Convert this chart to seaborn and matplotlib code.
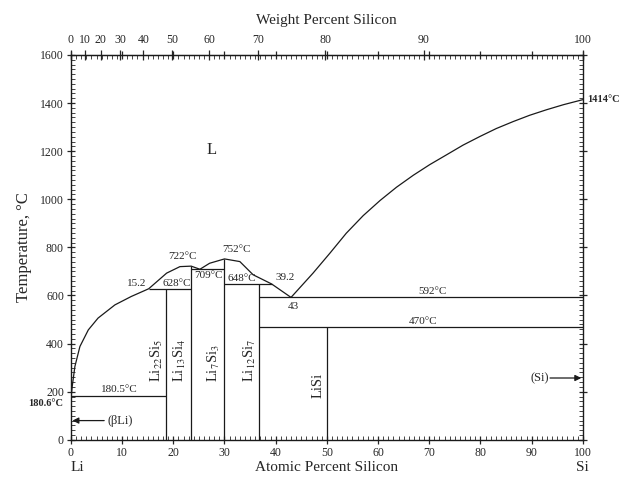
import numpy as np
import matplotlib
matplotlib.use("Agg")
from matplotlib import pyplot as plt
import seaborn as sns
import pandas as pd

# liquidus, Li side up to the eutectic at 43 at.%
liq_left_x = [0, 0.1, 0.25, 0.78, 1.76, 3.4, 5.3, 8.6, 11.8, 15.2, 18.7, 21.3, 23.5,
              25.2, 27.1, 30.0, 33.0, 35.6, 39.2, 43.0]
liq_left_t = [180.6, 190, 221, 305, 388, 457, 506, 561, 596, 628, 693, 720, 722,
              709, 734, 752, 741, 686, 648, 592]
# liquidus, Si side
liq_right_x = [43.0, 47.3, 50.6, 53.8, 57.1, 60.4, 63.6, 66.9, 70.1, 73.4, 76.6, 79.9,
               83.1, 86.4, 89.6, 92.9, 96.2, 100]
liq_right_t = [592, 693, 776, 859, 932, 995, 1050, 1100, 1144, 1185, 1225, 1261,
               1294, 1323, 1349, 1372, 1393, 1414]

# invariant lines (temperature, from x, to x)
h_temps = [180.5, 628, 709, 648, 592, 470]
h_from = [0, 15.2, 23.5, 30.0, 36.8, 36.8]
h_to = [18.5, 23.5, 30.0, 39.2, 100, 100]

# compound lines (composition, top temperature)
comp_names = ["Li$_{22}$Si$_5$", "Li$_{13}$Si$_4$", "Li$_7$Si$_3$", "Li$_{12}$Si$_7$", "LiSi"]
comp_x = [18.5, 23.5, 30.0, 36.8, 50.0]
comp_top = [628, 722, 752, 648, 470]

wt_labels = [0, 10, 20, 30, 40, 50, 60, 70, 80, 90, 100]

M_LI = 6.941
M_SI = 28.086


def at_to_wt(a):
    a = np.asarray(a, dtype=float)
    with np.errstate(divide='ignore', invalid='ignore'):
        return 100 * a * M_SI / (a * M_SI + (100 - a) * M_LI)


def wt_to_at(w):
    w = np.asarray(w, dtype=float)
    with np.errstate(divide='ignore', invalid='ignore'):
        return 100 * (w / M_SI) / (w / M_SI + (100 - w) / M_LI)


sns.set_style("ticks")
plt.rcParams['font.family'] = ['Liberation Serif', 'DejaVu Serif']
plt.rcParams['mathtext.fontset'] = 'stix'

fig = plt.figure(figsize=(6.22, 4.86), dpi=100)
ax = fig.add_axes([0.114, 0.095, 0.823, 0.792])

lc = '#1a1a1a'
lw = 0.9
df_l = pd.DataFrame({'x': liq_left_x, 't': liq_left_t})
df_r = pd.DataFrame({'x': liq_right_x, 't': liq_right_t})
sns.lineplot(data=df_l, x='x', y='t', sort=False, color=lc, lw=lw, ax=ax)
sns.lineplot(data=df_r, x='x', y='t', sort=False, color=lc, lw=lw, ax=ax)

ax.hlines(h_temps, h_from, h_to, color=lc, lw=lw)
ax.vlines(comp_x, 0, comp_top, color=lc, lw=lw)

ax.set_xlim(0, 100)
ax.set_ylim(0, 1600)
ax.set_xticks(np.arange(0, 101, 10))
ax.set_xticks(np.arange(0, 101, 1), minor=True)
ax.set_yticks(np.arange(0, 1601, 200))
ax.set_yticks(np.arange(0, 1601, 20), minor=True)
ax.tick_params(which='major', direction='inout', length=6, width=0.9,
               top=True, right=True, labeltop=False, labelright=False, pad=2)
ax.tick_params(axis='x', which='major', labelsize=8.5)
ax.tick_params(axis='y', which='major', labelsize=8.5)
ax.tick_params(which='minor', direction='in', length=3, width=0.6, top=True, right=True)
for s in ax.spines.values():
    s.set_linewidth(1.0)
    s.set_color(lc)

ax.set_xlabel("Atomic Percent Silicon", fontsize=11)
ax.xaxis.set_label_coords(0.5, -0.072)
ax.xaxis.label.set_va('center')
ax.set_ylabel("Temperature, °C", fontsize=12, labelpad=6)

top = ax.secondary_xaxis('top', functions=(at_to_wt, wt_to_at))
top.set_xticks(wt_labels)
top.set_xticks([], minor=True)
top.tick_params(which='major', direction='inout', length=7, width=0.9, labelsize=8.5, pad=3)
top.set_xlabel("Weight Percent Silicon", fontsize=11, labelpad=7)

# element labels under the axis
ax.text(0, -0.072, "Li", transform=ax.get_xaxis_transform(), fontsize=11, ha='left', va='center')
ax.text(100, -0.072, "Si", transform=ax.get_xaxis_transform(), fontsize=11, ha='center', va='center')

ax.text(-1.6, 152, "180.6°C", fontsize=7.5, fontweight='bold', ha='right', va='center')
ax.text(100.8, 1414, "1414°C", fontsize=7.5, fontweight='bold', ha='left', va='center')

ax.text(27.5, 1205, "L", fontsize=12, ha='center', va='center')

fs = 8
ax.text(9.5, 190, "180.5°C", fontsize=fs, ha='center', va='bottom')
ax.text(14.8, 632, "15.2", fontsize=fs, ha='right', va='bottom')
ax.text(20.6, 632, "628°C", fontsize=fs, ha='center', va='bottom')
ax.text(21.8, 745, "722°C", fontsize=fs, ha='center', va='bottom')
ax.text(26.8, 703, "709°C", fontsize=fs, ha='center', va='top')
ax.text(32.3, 772, "752°C", fontsize=fs, ha='center', va='bottom')
ax.text(33.4, 652, "648°C", fontsize=fs, ha='center', va='bottom')
ax.text(40.0, 655, "39.2", fontsize=fs, ha='left', va='bottom')
ax.text(43.4, 575, "43", fontsize=fs, ha='center', va='top')
ax.text(70.7, 597, "592°C", fontsize=fs, ha='center', va='bottom')
ax.text(68.8, 475, "470°C", fontsize=fs, ha='center', va='bottom')

comp_lx = [16.8, 21.3, 28.0, 35.0, 48.3]
comp_ly = [330, 330, 320, 330, 225]
for name, x, y in zip(comp_names, comp_lx, comp_ly):
    ax.text(x, y, name, fontsize=10.5, rotation=90, ha='center', va='center')

arrow = dict(arrowstyle='-|>', color=lc, lw=0.9, mutation_scale=9, shrinkA=0, shrinkB=0)
ax.annotate("", xy=(0.3, 80), xytext=(6.5, 80), arrowprops=arrow)
ax.text(7.2, 80, "(βLi)", fontsize=9, ha='left', va='center')
ax.annotate("", xy=(99.7, 257), xytext=(93.6, 257), arrowprops=arrow)
ax.text(93.3, 257, "(Si)", fontsize=9, ha='right', va='center')

fig.savefig("out.png", dpi=100)
